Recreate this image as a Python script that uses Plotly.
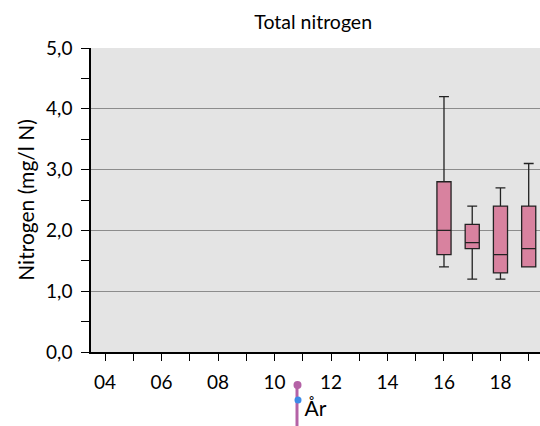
import plotly.graph_objects as go

# Data (year as two-digit number)
years = [16, 17, 18, 19]
lower = [1.4, 1.2, 1.2, 1.4]
q1 = [1.6, 1.7, 1.3, 1.4]
median = [2.0, 1.8, 1.6, 1.7]
q3 = [2.8, 2.1, 2.4, 2.4]
upper = [4.2, 2.4, 2.7, 3.1]

x_tick_vals = [4, 6, 8, 10, 12, 14, 16, 18]
x_tick_text = ["04", "06", "08", "10", "12", "14", "16", "18"]
y_tick_vals = [0, 1, 2, 3, 4, 5]

FONT = "Lato, 'Open Sans', sans-serif"

fig = go.Figure()

fig.add_trace(go.Box(
    x=years,
    q1=q1,
    median=median,
    q3=q3,
    lowerfence=lower,
    upperfence=upper,
    boxpoints=False,
    width=0.5,
    whiskerwidth=0.7,
    fillcolor="#D8829F",
    line=dict(color="#222222", width=1.3),
    hoverinfo="skip",
    showlegend=False,
))

fig.update_layout(
    width=540,
    height=426,
    margin=dict(l=91, r=0, t=48, b=74),
    paper_bgcolor="white",
    plot_bgcolor="#E4E4E4",
    separators=",.",
    font=dict(family=FONT, size=19, color="black"),
    title=dict(text="Total nitrogen", x=0.58, xanchor="center",
               y=0.948, yanchor="middle", font=dict(size=19.5)),
    xaxis=dict(
        range=[3.5, 19.4],
        tickmode="array",
        tickvals=x_tick_vals,
        ticktext=x_tick_text,
        ticks="outside",
        ticklen=7,
        tickcolor="black",
        ticklabelstandoff=5,
        showgrid=False,
        zeroline=False,
        showline=True,
        linecolor="black",
        linewidth=1.5,
        minor=dict(dtick=1, tick0=0, ticks="outside", ticklen=7, tickcolor="black", showgrid=False),
        title=dict(text="År", font=dict(size=21), standoff=10),
        tickfont=dict(size=19),
    ),
    yaxis=dict(
        range=[0, 5],
        tickmode="array",
        tickvals=y_tick_vals,
        tickformat=".1f",
        ticks="outside",
        ticklen=8,
        tickcolor="black",
        ticklabelstandoff=5,
        showgrid=True,
        gridcolor="#8C8C8C",
        gridwidth=1,
        zeroline=False,
        showline=True,
        linecolor="black",
        linewidth=1.5,
        minor=dict(dtick=0.5, tick0=0, ticks="outside", ticklen=8, tickcolor="black", showgrid=False),
        title=dict(text="Nitrogen (mg/l N)", font=dict(size=21), standoff=6),
        tickfont=dict(size=19),
    ),
)

# decorative handle near the axis title, as in the reference (window pixels -> paper)
def px(x):
    return (x - 91) / 449


def py(y):
    return (352 - y) / 304


fig.add_shape(type="line", xref="paper", yref="paper",
              x0=px(297), x1=px(297), y0=py(430), y1=py(386),
              line=dict(color="#B462A6", width=3))
fig.add_shape(type="circle", xref="paper", yref="paper",
              x0=px(293.5), x1=px(301.5), y0=py(389), y1=py(381),
              fillcolor="#B462A6", line=dict(width=0))
fig.add_shape(type="circle", xref="paper", yref="paper",
              x0=px(294.5), x1=px(301.5), y0=py(403.5), y1=py(396.5),
              fillcolor="#3D8BE8", line=dict(width=0))

# drop the page's default body margin so the figure fills the window
fig.write_html("out.html",
               config={"displayModeBar": False},
               post_script="document.body.style.margin='0';document.body.style.overflow='hidden';")
